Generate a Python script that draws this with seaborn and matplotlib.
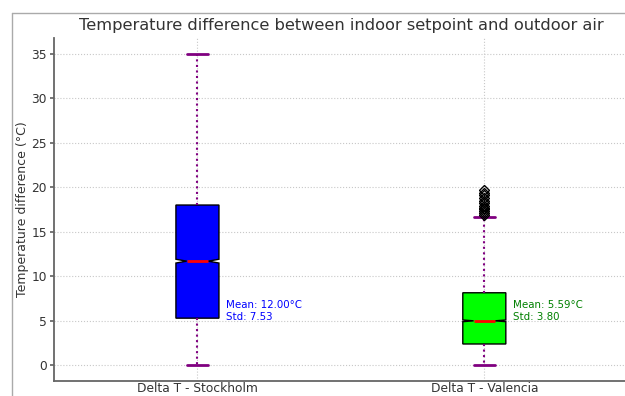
import matplotlib
matplotlib.use('Agg')
import matplotlib.pyplot as plt
from matplotlib.lines import Line2D
import seaborn as sns
import numpy as np
import pandas as pd

# hourly delta T values, given as value levels and how many hours sit at each level
cities = ['Delta T - Stockholm', 'Delta T - Valencia']
sthlm_levels = [0.0, 3.0, 5.3, 9.0, 11.7, 15.0, 18.0, 24.0, 35.0]
sthlm_counts = [1, 2000, 400, 1900, 200, 1900, 400, 1958, 1]
vlc_levels = [0.0, 1.2, 2.4, 3.7, 5.0, 6.5, 8.15, 11.0, 16.7,
              16.9, 17.1, 17.3, 17.5, 17.7, 17.9, 18.2, 18.5, 18.8, 19.1, 19.4, 19.7]
vlc_counts = [1, 2000, 400, 1900, 200, 1900, 400, 1946, 1,
              1, 1, 1, 1, 1, 1, 1, 1, 1, 1, 1, 1]
means = [12.00, 5.59]
stds = [7.53, 3.80]
box_colors = ['blue', 'lime']
text_colors = ['blue', 'green']

df = pd.DataFrame({
    'city': [cities[0]] * sum(sthlm_counts) + [cities[1]] * sum(vlc_counts),
    'value': np.concatenate([np.repeat(sthlm_levels, sthlm_counts),
                             np.repeat(vlc_levels, vlc_counts)]),
})

sns.set_theme(style='whitegrid')
plt.rcParams['font.family'] = ['DejaVu Sans']
plt.rcParams['grid.linestyle'] = ':'
plt.rcParams['grid.color'] = '#c8c8c8'
plt.rcParams['grid.linewidth'] = 0.8

fig = plt.figure(figsize=(6.25, 3.96), dpi=100)
ax = fig.add_axes([0.0864, 0.038, 0.918, 0.866])

sns.boxplot(data=df, x='city', y='value', hue='city', palette=box_colors,
            legend=False, saturation=1, width=0.15, notch=True, whis=1.5,
            linecolor='black', linewidth=1, ax=ax,
            medianprops=dict(color='red', linewidth=2),
            whiskerprops=dict(color='purple', linestyle=':', linewidth=1.5),
            capprops=dict(color='purple', linewidth=2),
            flierprops=dict(marker='D', markerfacecolor='none',
                            markeredgecolor='black', markersize=5))

for i in range(2):
    ax.text(i + 0.1, 6.1, f'Mean: {means[i]:.2f}°C\nStd: {stds[i]:.2f}',
            color=text_colors[i], fontsize=7.4, va='center', ha='left')

ax.set_title('Temperature difference between indoor setpoint and outdoor air',
             fontsize=11.7, color='#333333', pad=6)
ax.set_ylabel('Temperature difference (°C)', fontsize=9, color='#333333',
              labelpad=2)
ax.set_xlabel('')
ax.tick_params(axis='y', labelsize=8.8, colors='#333333', length=3,
               left=True, color='#666666', pad=2)
ax.tick_params(axis='x', labelsize=8.8, colors='#333333', length=0,
               bottom=True, pad=1)
ax.grid(True, axis='both')
for side in ['top', 'right']:
    ax.spines[side].set_visible(False)
for side in ['left', 'bottom']:
    ax.spines[side].set_color('#666666')
    ax.spines[side].set_linewidth(1.3)

# frame of the original figure window
fig.add_artist(Line2D([0.0192, 0.0192], [0, 0.967], color='#aaaaaa', lw=1))
fig.add_artist(Line2D([0.0192, 1], [0.967, 0.967], color='#aaaaaa', lw=1))

fig.savefig('out.png', dpi=100)
